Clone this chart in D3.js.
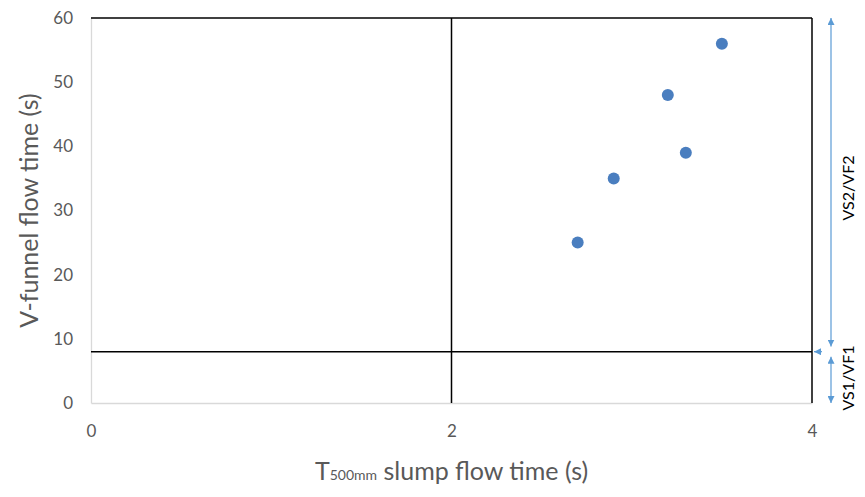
<!DOCTYPE html>
<html><head><meta charset="utf-8">
<script src="https://cdn.jsdelivr.net/npm/d3@7"></script>
<style>body{margin:0;background:#fff}svg{display:block}</style>
</head><body>
<svg id="c" width="865" height="497"></svg>
<script>
const tX = [2.7, 2.9, 3.2, 3.3, 3.5];
const vfunnel = [25, 35, 48, 39, 56];
const xTicks = [0, 2, 4];
const yTicks = [0, 10, 20, 30, 40, 50, 60];
const xLimit = 2, yLimit = 8;
const xTitle = ["T", "500mm", " slump flow time (s)"];
const yTitle = "V-funnel flow time (s)";
const zoneLabels = ["VS2/VF2", "VS1/VF1"];

const svg = d3.select("#c");
const m = {l: 91, r: 812, t: 18, b: 403};
const x = d3.scaleLinear().domain([0, 4]).range([m.l, m.r]);
const y = d3.scaleLinear().domain([0, 60]).range([m.b, m.t]);
const font = "Lato, 'Open Sans', sans-serif";

// axes
const xa = svg.append("g").attr("transform", `translate(0,${m.b})`)
  .call(d3.axisBottom(x).tickValues(xTicks).tickFormat(d3.format("d")).tickSize(0).tickPadding(22));
const ya = svg.append("g").attr("transform", `translate(${m.l},0)`)
  .call(d3.axisLeft(y).tickValues(yTicks).tickFormat(d3.format("d")).tickSize(0).tickPadding(18));
[xa, ya].forEach(a => {
  a.select(".domain").attr("stroke", "#d9d9d9").attr("stroke-width", 1.3);
  a.selectAll("text").attr("fill", "#595959").attr("font-size", 17).attr("font-family", font);
});

// boundary lines
const lines = [
  [0, 60, 4, 60], [4, 0, 4, 60], [xLimit, 0, xLimit, 60], [0, yLimit, 4, yLimit]
];
svg.selectAll("line.b").data(lines).enter().append("line").attr("class", "b")
  .attr("x1", d => x(d[0])).attr("y1", d => y(d[1]))
  .attr("x2", d => x(d[2])).attr("y2", d => y(d[3]))
  .attr("stroke", "#000").attr("stroke-width", 1.5);

// points
svg.selectAll("circle").data(tX.map((v, i) => [v, vfunnel[i]])).enter().append("circle")
  .attr("cx", d => x(d[0])).attr("cy", d => y(d[1])).attr("r", 6)
  .attr("fill", "#4a7ebf");

// arrows
const defs = svg.append("defs");
defs.append("marker").attr("id", "ah").attr("viewBox", "0 0 10 10")
  .attr("refX", 10).attr("refY", 5).attr("markerWidth", 7).attr("markerHeight", 7)
  .attr("orient", "auto-start-reverse").attr("markerUnits", "userSpaceOnUse")
  .append("path").attr("d", "M0,0L10,5L0,10z").attr("fill", "#5b9bd5");
const ax = 831;
const arrows = [[60, yLimit + 0.8], [yLimit - 0.8, 0]];
svg.selectAll("line.a").data(arrows).enter().append("line").attr("class", "a")
  .attr("x1", ax).attr("x2", ax)
  .attr("y1", d => y(d[0])).attr("y2", d => y(d[1]))
  .attr("stroke", "#5b9bd5").attr("stroke-width", 1.2)
  .attr("marker-start", "url(#ah)").attr("marker-end", "url(#ah)");
svg.append("line").attr("x1", 822).attr("x2", x(4) + 2)
  .attr("y1", y(yLimit)).attr("y2", y(yLimit))
  .attr("stroke", "#5b9bd5").attr("stroke-width", 1.2).attr("marker-end", "url(#ah)");

// zone labels
const zl = [[zoneLabels[0], 33.5], [zoneLabels[1], 3.9]];
svg.selectAll("text.z").data(zl).enter().append("text").attr("class", "z")
  .attr("transform", d => `translate(854,${y(d[1])}) rotate(-90)`)
  .attr("text-anchor", "middle").attr("font-size", 16).attr("font-family", font)
  .attr("fill", "#000").text(d => d[0]);

// titles
const xt = svg.append("text").attr("x", x(2)).attr("y", 480).attr("text-anchor", "middle")
  .attr("font-size", 25).attr("font-family", font).attr("fill", "#595959");
xt.append("tspan").text(xTitle[0]);
xt.append("tspan").attr("font-size", 14).text(xTitle[1]);
xt.append("tspan").text(xTitle[2]);
svg.append("text").attr("transform", `translate(38,${y(30)}) rotate(-90)`)
  .attr("text-anchor", "middle").attr("font-size", 25).attr("font-family", font)
  .attr("fill", "#595959").text(yTitle);
</script>
</body></html>
